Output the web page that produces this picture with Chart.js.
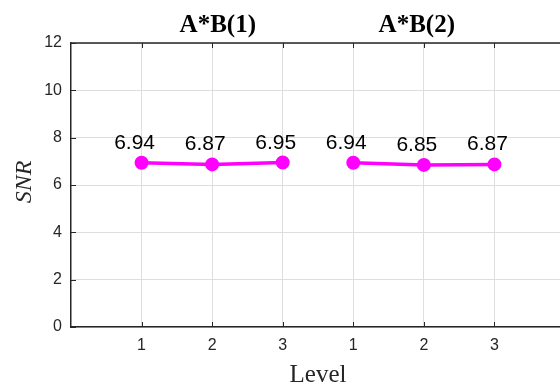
<!DOCTYPE html>
<html>
<head>
<meta charset="utf-8">
<script src="https://cdn.jsdelivr.net/npm/chart.js@4"></script>
<style>
html{margin:0;padding:0;overflow:hidden;background:#fff;}
body{margin:0;padding:0;background:#fff;width:573px;height:384px;}
canvas{display:block;}
</style>
</head>
<body>
<canvas id="c" width="573" height="384" style="width:573px;height:384px"></canvas>
<script>
// ---- data ----
const groupTitles = ['A*B(1)', 'A*B(2)'];
const xPositionsA = [1, 2, 3];
const xPositionsB = [4, 5, 6];
const snrA = [6.94, 6.87, 6.95];
const snrB = [6.94, 6.85, 6.87];
const xTickLabels = ['1', '2', '3', '1', '2', '3'];
const yTicks = [0, 2, 4, 6, 8, 10, 12];
const xAxisTitle = 'Level';
const yAxisTitle = 'SNR';

const MAG = '#ff00ff';
const INK = '#262626';

function ds(xs, ys) {
  return {
    data: xs.map((x, i) => ({x: x, y: ys[i]})),
    borderColor: MAG,
    backgroundColor: MAG,
    borderWidth: 3.5,
    pointRadius: 6,
    pointBorderWidth: 2,
    pointBackgroundColor: MAG,
    pointBorderColor: MAG,
    tension: 0
  };
}

const decor = {
  id: 'decor',
  afterDraw(chart) {
    const ctx = chart.ctx;
    const xs = chart.scales.x, ys = chart.scales.y;
    const a = chart.chartArea;
    ctx.save();
    // top border
    ctx.strokeStyle = INK;
    ctx.lineWidth = 1.5;
    ctx.beginPath();
    ctx.moveTo(a.left, a.top);
    ctx.lineTo(a.right, a.top);
    ctx.stroke();
    // inward ticks
    ctx.lineWidth = 1;
    ctx.beginPath();
    for (let v = 1; v <= 6; v++) {
      const px = Math.round(xs.getPixelForValue(v)) + 0.5;
      ctx.moveTo(px, a.bottom); ctx.lineTo(px, a.bottom - 5);
      ctx.moveTo(px, a.top); ctx.lineTo(px, a.top + 5);
    }
    yTicks.forEach(v => {
      const py = Math.round(ys.getPixelForValue(v)) + 0.5;
      ctx.moveTo(a.left, py); ctx.lineTo(a.left + 5, py);
    });
    ctx.stroke();
    // data labels
    ctx.fillStyle = '#000';
    ctx.font = '21px "Liberation Sans", Arial, sans-serif';
    ctx.textAlign = 'center';
    ctx.textBaseline = 'alphabetic';
    chart.data.datasets.forEach((d, di) => {
      const meta = chart.getDatasetMeta(di);
      meta.data.forEach((pt, i) => {
        ctx.fillText(d.data[i].y.toFixed(2), pt.x - 7, pt.y - 14);
      });
    });
    // group titles
    ctx.font = 'bold 25px "Liberation Serif", "Times New Roman", serif';
    ctx.fillStyle = '#000';
    const titleX = [2.08, 4.9];
    groupTitles.forEach((t, i) => {
      ctx.fillText(t, xs.getPixelForValue(titleX[i]), 32);
    });
    // axis titles
    ctx.fillStyle = INK;
    ctx.font = '25px "Liberation Serif", "Times New Roman", serif';
    ctx.fillText(xAxisTitle, (a.left + a.right) / 2, 382);
    ctx.save();
    ctx.translate(31, (a.top + a.bottom) / 2 - 3);
    ctx.rotate(-Math.PI / 2);
    ctx.font = 'italic 24px "Liberation Serif", "Times New Roman", serif';
    ctx.fillText(yAxisTitle, 0, 0);
    ctx.restore();
    ctx.restore();
  }
};

new Chart(document.getElementById('c'), {
  type: 'line',
  data: { datasets: [ds(xPositionsA, snrA), ds(xPositionsB, snrB)] },
  options: {
    responsive: false,
    animation: false,
    layout: { padding: { top: 43, right: 2, left: 0, bottom: 0 } },
    plugins: { legend: { display: false }, tooltip: { enabled: false }, title: { display: false } },
    scales: {
      x: {
        type: 'linear',
        min: 0, max: 7,
        afterBuildTicks(scale) { scale.ticks = xTickLabels.map((l, i) => ({value: i + 1})); },
        afterFit(scale) { scale.height = 57; },
        ticks: {
          callback(v) { return xTickLabels[v - 1] ?? ''; },
          color: INK,
          font: { family: '"Liberation Sans", Arial, sans-serif', size: 16 },
          padding: 9,
          maxRotation: 0
        },
        grid: { color: '#dedede', lineWidth: 1, drawTicks: false },
        border: { display: true, color: INK, width: 1.5 }
      },
      y: {
        min: 0, max: 12,
        afterBuildTicks(scale) { scale.ticks = yTicks.map(v => ({value: v})); },
        afterFit(scale) { scale.width = 71; },
        ticks: {
          color: INK,
          font: { family: '"Liberation Sans", Arial, sans-serif', size: 16 },
          padding: 9
        },
        grid: { color: '#dedede', lineWidth: 1, drawTicks: false },
        border: { display: true, color: INK, width: 1.5 }
      }
    }
  },
  plugins: [decor]
});
</script>
</body>
</html>
